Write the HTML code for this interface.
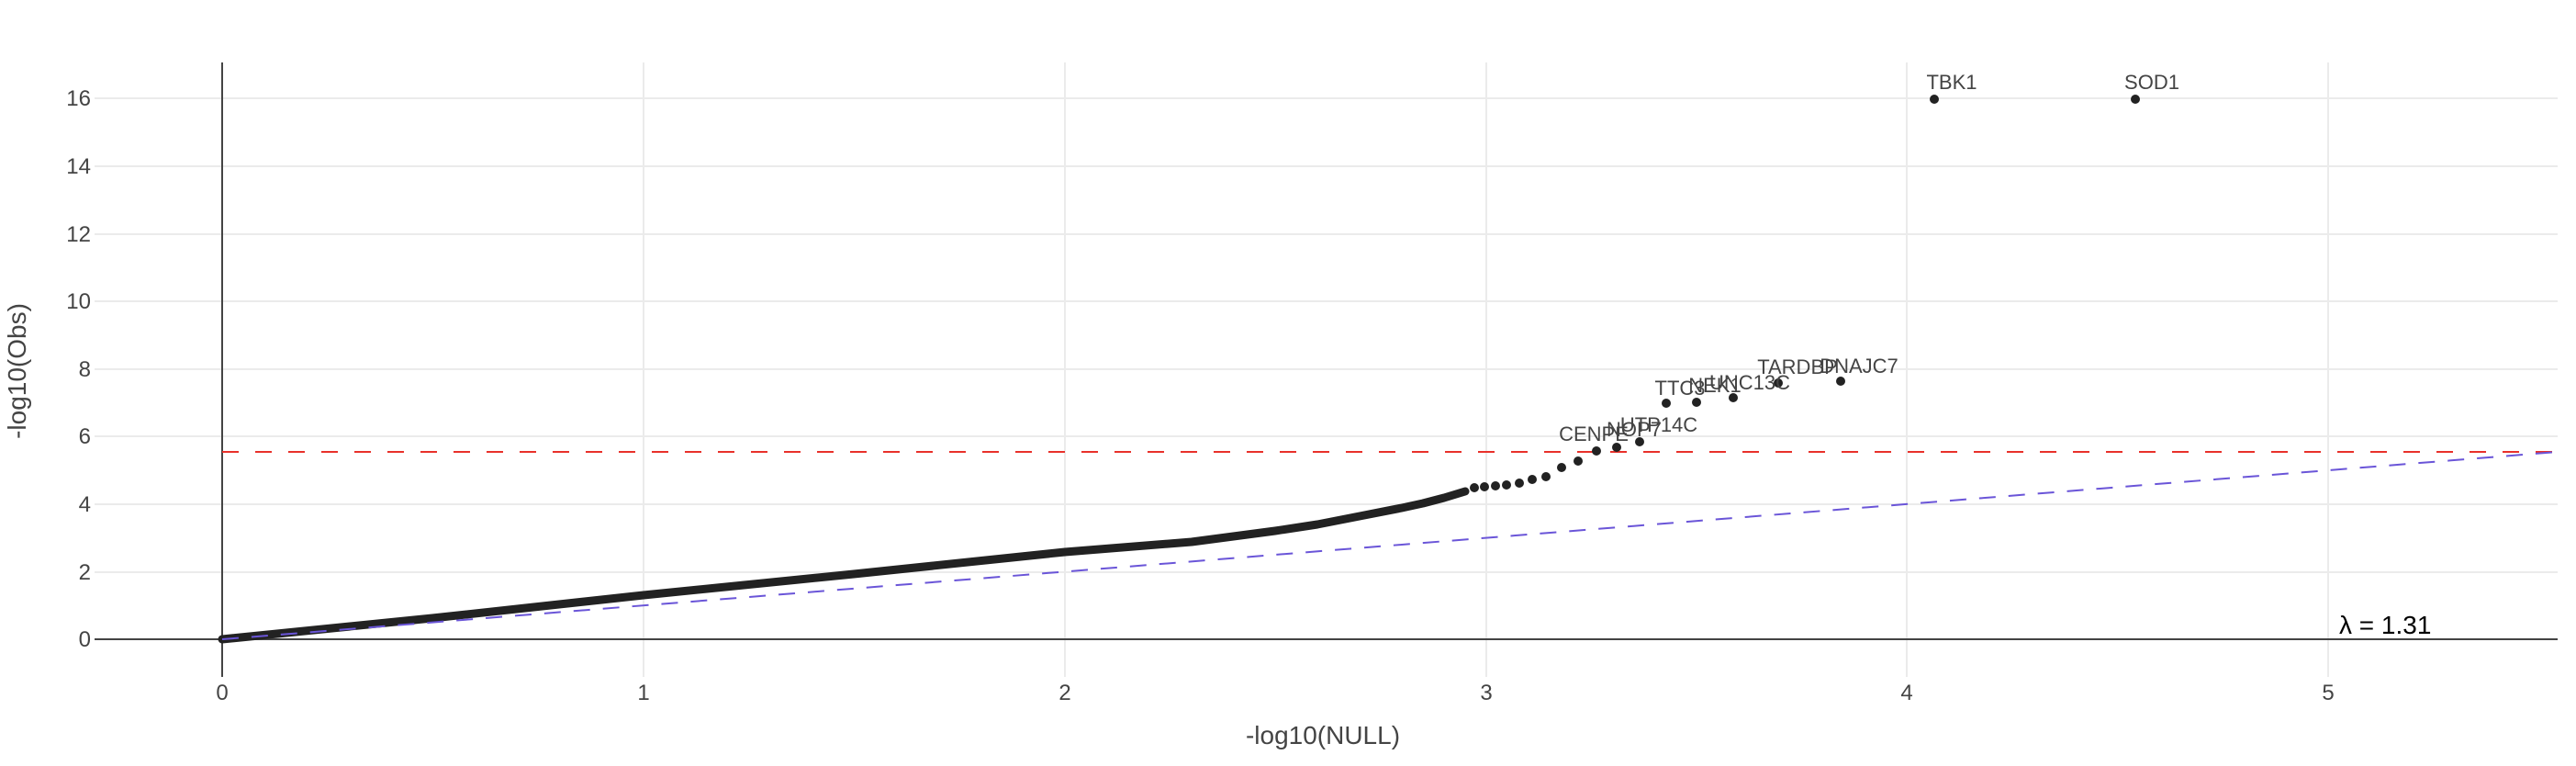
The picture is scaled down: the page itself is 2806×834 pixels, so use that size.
<!DOCTYPE html>
<html><head><meta charset="utf-8"><style>html,body{margin:0;padding:0;background:#fff}svg{display:block}</style></head>
<body>
<svg width="2806" height="834" xmlns="http://www.w3.org/2000/svg" font-family="'Liberation Sans', sans-serif">
<rect width="2806" height="834" fill="#fff"/>
<g stroke="#ebebeb" stroke-width="2">
<line x1="701" y1="68" x2="701" y2="737"/><line x1="1160" y1="68" x2="1160" y2="737"/>
<line x1="1619" y1="68" x2="1619" y2="737"/><line x1="2077" y1="68" x2="2077" y2="737"/>
<line x1="2536" y1="68" x2="2536" y2="737"/>
<line x1="103" y1="623" x2="2786" y2="623"/><line x1="103" y1="549" x2="2786" y2="549"/>
<line x1="103" y1="475" x2="2786" y2="475"/><line x1="103" y1="402" x2="2786" y2="402"/>
<line x1="103" y1="328" x2="2786" y2="328"/><line x1="103" y1="255" x2="2786" y2="255"/>
<line x1="103" y1="181" x2="2786" y2="181"/><line x1="103" y1="107" x2="2786" y2="107"/>
</g>
<line x1="103" y1="696" x2="2786" y2="696" stroke="#444" stroke-width="2"/>
<line x1="242" y1="68" x2="242" y2="737" stroke="#444" stroke-width="2"/>
<g font-size="24" fill="#444" text-anchor="end">
<text x="99" y="704">0</text><text x="99" y="631">2</text><text x="99" y="557">4</text>
<text x="99" y="483">6</text><text x="99" y="410">8</text><text x="99" y="336">10</text>
<text x="99" y="263">12</text><text x="99" y="189">14</text><text x="99" y="115">16</text>
</g>
<g font-size="24" fill="#444" text-anchor="middle">
<text x="242" y="762">0</text><text x="701" y="762">1</text><text x="1160" y="762">2</text>
<text x="1619" y="762">3</text><text x="2077" y="762">4</text><text x="2536" y="762">5</text>
</g>
<text x="1441" y="810" font-size="28" fill="#444" text-anchor="middle">-log10(NULL)</text>
<text transform="translate(28,404) rotate(-90)" font-size="28" fill="#444" text-anchor="middle">-log10(Obs)</text>
<line x1="242" y1="492" x2="2786" y2="492" stroke="#e8312a" stroke-width="2" stroke-dasharray="18,18"/>
<polyline points="242,696 471,673 701,648 930,625 1160,601 1298,590 1389,578 1435,571 1481,562 1527,553 1550,548 1573,542 1596,535" fill="none" stroke="#222" stroke-width="9" stroke-linecap="round" stroke-linejoin="round"/>
<line x1="242" y1="696" x2="2786" y2="492" stroke="#6a55d8" stroke-width="2" stroke-dasharray="18,14"/>
<g fill="#222">
<circle cx="1606" cy="531" r="5"/><circle cx="1617" cy="530" r="5"/><circle cx="1629" cy="529" r="5"/>
<circle cx="1641" cy="528" r="5"/><circle cx="1655" cy="526" r="5"/><circle cx="1669" cy="522" r="5"/>
<circle cx="1684" cy="519" r="5"/><circle cx="1701" cy="509" r="5"/><circle cx="1719" cy="502" r="5"/>
<circle cx="1739" cy="491" r="5"/><circle cx="1761" cy="487" r="5"/><circle cx="1786" cy="481" r="5"/>
<circle cx="1815" cy="439" r="5"/><circle cx="1848" cy="438" r="5"/><circle cx="1888" cy="433" r="5"/>
<circle cx="1937" cy="417" r="5"/><circle cx="2005" cy="415" r="5"/>
<circle cx="2107" cy="108" r="5"/><circle cx="2326" cy="108" r="5"/>
</g>
<g font-size="22" fill="#444" text-anchor="middle">
<text x="1736" y="480">CENPE</text><text x="1780" y="475">NOP7</text><text x="1807" y="470">UTP14C</text>
<text x="1830" y="430">TTC3</text><text x="1868" y="427">NEK1</text><text x="1906" y="424">UNC13C</text>
<text x="1958" y="407">TARDBP</text><text x="2025" y="406">DNAJC7</text>
<text x="2126" y="97">TBK1</text><text x="2344" y="97">SOD1</text>
</g>
<text x="2548" y="690" font-size="28" fill="#000">λ = 1.31</text>
</svg>
</body></html>
